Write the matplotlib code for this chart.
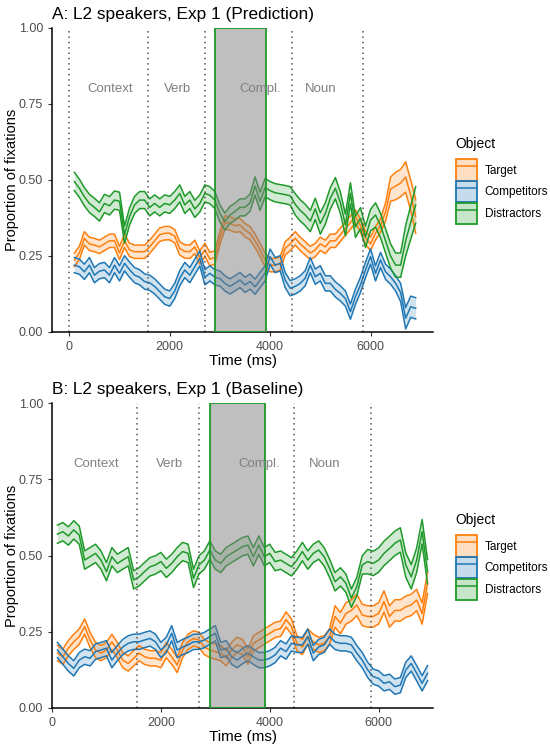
import numpy as np
import matplotlib
matplotlib.use("Agg")
import matplotlib.pyplot as plt
from matplotlib.patches import Patch, Rectangle
from matplotlib.lines import Line2D

plt.rcParams['font.family'] = ['Liberation Sans', 'DejaVu Sans']

# time grid (ms)
time = np.arange(100, 7000, 100)

# ---- Panel A: Prediction ----
a_target = [0.237, 0.26, 0.308, 0.29, 0.286, 0.28, 0.29, 0.30, 0.30, 0.26,
            0.30, 0.27, 0.264, 0.264, 0.264, 0.28, 0.30, 0.32, 0.325, 0.325,
            0.315, 0.275, 0.265, 0.264, 0.28, 0.245, 0.27, 0.24, 0.245, 0.31,
            0.36, 0.357, 0.35, 0.352, 0.335, 0.325, 0.30, 0.27, 0.237, 0.22,
            0.22, 0.225, 0.275, 0.29, 0.308, 0.29, 0.275, 0.26, 0.27, 0.29,
            0.28, 0.30, 0.30, 0.32, 0.34, 0.36, 0.38, 0.35, 0.31, 0.29,
            0.325, 0.35, 0.395, 0.47, 0.48, 0.49, 0.51, 0.45, 0.38]
a_target_hw = [0.022] * 62 + [0.03, 0.04, 0.045, 0.045, 0.05, 0.05, 0.055]

a_comp = [0.22, 0.215, 0.198, 0.22, 0.187, 0.20, 0.204, 0.187, 0.22, 0.193,
          0.226, 0.205, 0.187, 0.18, 0.166, 0.162, 0.15, 0.133, 0.116, 0.11,
          0.135, 0.177, 0.204, 0.187, 0.215, 0.242, 0.18, 0.193, 0.18, 0.176,
          0.16, 0.15, 0.16, 0.171, 0.155, 0.166, 0.149, 0.171, 0.193, 0.248,
          0.22, 0.226, 0.171, 0.144, 0.15, 0.16, 0.177, 0.22, 0.182, 0.193,
          0.16, 0.16, 0.14, 0.127, 0.11, 0.067, 0.116, 0.155, 0.204, 0.248,
          0.193, 0.237, 0.198, 0.182, 0.16, 0.13, 0.045, 0.083, 0.078]
a_comp_hw = [0.025] * 65 + [0.03, 0.035, 0.035, 0.035]

a_dist = [0.495, 0.473, 0.445, 0.423, 0.41, 0.395, 0.423, 0.415, 0.434, 0.43,
          0.32, 0.38, 0.418, 0.434, 0.434, 0.41, 0.423, 0.41, 0.423, 0.418,
          0.434, 0.456, 0.418, 0.434, 0.405, 0.423, 0.456, 0.45, 0.434, 0.39,
          0.363, 0.385, 0.396, 0.41, 0.41, 0.425, 0.48, 0.43, 0.475, 0.465,
          0.458, 0.455, 0.452, 0.448, 0.42, 0.40, 0.385, 0.365, 0.405, 0.357,
          0.39, 0.44, 0.473, 0.425, 0.352, 0.456, 0.346, 0.374, 0.313, 0.368,
          0.385, 0.35, 0.30, 0.25, 0.22, 0.22, 0.30, 0.36, 0.418]
a_dist_hw = [0.03] * 10 + [0.028] * 26 + [0.03] * 8 + [0.035] * 16 + [0.04] * 6 + [0.05, 0.055, 0.06]

# ---- Panel B: Baseline ----
b_target = [0.18, 0.168, 0.196, 0.217, 0.234, 0.267, 0.223, 0.19, 0.18, 0.19,
            0.217, 0.19, 0.157, 0.146, 0.163, 0.18, 0.168, 0.163, 0.163, 0.157,
            0.19, 0.168, 0.141, 0.19, 0.217, 0.228, 0.223, 0.20, 0.19, 0.185,
            0.18, 0.163, 0.19, 0.207, 0.20, 0.168, 0.212, 0.223, 0.234, 0.245,
            0.256, 0.26, 0.29, 0.267, 0.212, 0.20, 0.234, 0.217, 0.207, 0.212,
            0.234, 0.30, 0.278, 0.31, 0.32, 0.338, 0.305, 0.30, 0.30, 0.31,
            0.349, 0.30, 0.32, 0.32, 0.332, 0.338, 0.354, 0.31, 0.41]
b_target_hw = [0.025] * 51 + [0.035] * 18

b_comp = [0.19, 0.168, 0.146, 0.13, 0.157, 0.168, 0.163, 0.185, 0.19, 0.196,
          0.157, 0.18, 0.20, 0.212, 0.217, 0.217, 0.223, 0.228, 0.217, 0.19,
          0.207, 0.245, 0.19, 0.20, 0.207, 0.217, 0.217, 0.223, 0.234, 0.245,
          0.19, 0.196, 0.168, 0.157, 0.17, 0.18, 0.168, 0.157, 0.157, 0.163,
          0.174, 0.196, 0.185, 0.212, 0.207, 0.207, 0.234, 0.18, 0.20, 0.207,
          0.234, 0.217, 0.212, 0.212, 0.207, 0.18, 0.157, 0.125, 0.103, 0.097,
          0.081, 0.086, 0.07, 0.075, 0.125, 0.146, 0.114, 0.081, 0.114]
b_comp_hw = [0.025] * 69

b_dist = [0.57, 0.578, 0.564, 0.584, 0.567, 0.485, 0.496, 0.507, 0.485, 0.447,
          0.496, 0.474, 0.485, 0.496, 0.42, 0.43, 0.447, 0.463, 0.469, 0.48,
          0.458, 0.474, 0.496, 0.513, 0.507, 0.425, 0.469, 0.485, 0.518, 0.485,
          0.474, 0.496, 0.507, 0.518, 0.529, 0.534, 0.496, 0.534, 0.496, 0.507,
          0.48, 0.485, 0.474, 0.463, 0.485, 0.513, 0.485, 0.507, 0.518, 0.496,
          0.458, 0.414, 0.43, 0.409, 0.36, 0.398, 0.469, 0.48, 0.474, 0.485,
          0.507, 0.523, 0.54, 0.551, 0.469, 0.43, 0.485, 0.578, 0.447]
b_dist_hw = [0.03] * 57 + [0.04] * 12

# regions
boundaries = [0, 1560, 2700, 4440, 5860]
boundaries_b = [1560, 2700, 4440, 5860]
compl_span = (2900, 3910)
region_names = ['Context', 'Verb', 'Compl.', 'Noun']
region_x = [810, 2160, 3810, 5015]

labels = ['Target', 'Competitors', 'Distractors']
colors = ['#ff7f0e', '#1f77b4', '#1f9a2a']

fig = plt.figure(figsize=(5.5, 7.45), dpi=100)
ax_a = fig.add_axes([52 / 550, 1 - 332 / 745, 381 / 550, 304 / 745])
ax_b = fig.add_axes([52 / 550, 1 - 708 / 745, 381 / 550, 305 / 745])


def draw_panel(ax, series, title, vlines, xlim):
    for (mean, hw), col in zip(series, colors):
        mean = np.array(mean)
        hw = np.array(hw)
        lo, hi = mean - hw, mean + hw
        ax.fill_between(time, lo, hi, color=col, alpha=0.2, lw=0)
        for y in (lo, mean, hi):
            ax.plot(time, y, color=col, lw=1.1)
    for v in vlines:
        ax.axvline(v, color='#555555', ls=(0, (1, 2.5)), lw=1.1)
    ax.add_patch(Rectangle((compl_span[0], 0), compl_span[1] - compl_span[0], 1,
                           facecolor=(0.5, 0.5, 0.5, 0.5), edgecolor='#1f9a2a',
                           lw=1.3, zorder=5))
    for name, x in zip(region_names, region_x):
        ax.text(x, 0.8, name, color='#808080', fontsize=9.5, ha='center', va='center', zorder=6)
    ax.set_xlim(*xlim)
    ax.set_ylim(0, 1)
    ax.set_yticks([0, 0.25, 0.5, 0.75, 1.0])
    ax.set_yticklabels(['0.00', '0.25', '0.50', '0.75', '1.00'])
    ax.set_xticks([0, 2000, 4000, 6000])
    ax.tick_params(colors='#333333', labelcolor='#4d4d4d', labelsize=9, length=3)
    for s in ('top', 'right'):
        ax.spines[s].set_visible(False)
    for s in ('left', 'bottom'):
        ax.spines[s].set_linewidth(1.1)
    ax.set_xlabel('Time (ms)', fontsize=11, labelpad=1)
    ax.set_ylabel('Proportion of fixations', fontsize=10.5, labelpad=0)
    ax.set_title(title, loc='left', fontsize=12.4, pad=6.5)


draw_panel(ax_a, [(a_target, a_target_hw), (a_comp, a_comp_hw), (a_dist, a_dist_hw)],
           'A: L2 speakers, Exp 1 (Prediction)', boundaries, (-345, 7245))
draw_panel(ax_b, [(b_target, b_target_hw), (b_comp, b_comp_hw), (b_dist, b_dist_hw)],
           'B: L2 speakers, Exp 1 (Baseline)', boundaries_b, (0, 7000))

handles = [(Patch(facecolor=c, alpha=0.25, edgecolor='none'),
            Patch(facecolor='none', edgecolor=c, lw=1.3),
            Line2D([], [], color=c, lw=1.1)) for c in colors]

for ytop in (126, 502):
    leg = fig.legend(handles, labels, title='Object', loc='upper left',
                     bbox_to_anchor=(445 / 550, 1 - ytop / 745), frameon=False,
                     fontsize=8.5, title_fontsize=10, handlelength=1.8,
                     handleheight=2.4, labelspacing=0.05, handletextpad=0.65)
    leg._legend_box.align = 'left'
    leg._legend_box.sep = 6.2

fig.savefig('out.png', dpi=100)
